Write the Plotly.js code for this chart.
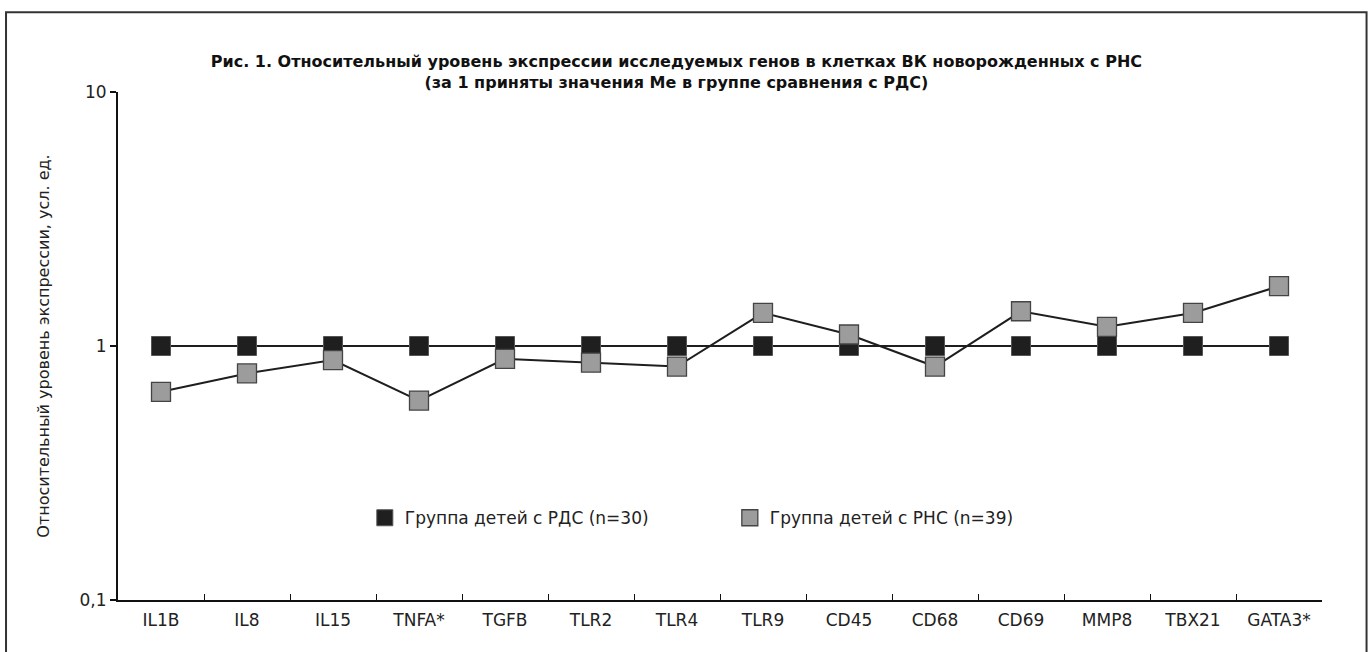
<!DOCTYPE html>
<html>
<head>
<meta charset="utf-8">
<script src="https://cdn.plot.ly/plotly-3.0.1.min.js"></script>
<style>html,body{margin:0;padding:0;background:#fff;}#chart{width:1372px;height:652px;}</style>
</head>
<body>
<div id="chart"></div>
<script>
const genes = ["IL1B","IL8","IL15","TNFA*","TGFB","TLR2","TLR4","TLR9","CD45","CD68","CD69","MMP8","TBX21","GATA3*"];
const rdsValues = [1,1,1,1,1,1,1,1,1,1,1,1,1,1];
const rnsValues = [0.66,0.78,0.88,0.61,0.89,0.86,0.83,1.35,1.11,0.83,1.37,1.19,1.35,1.72];
const seriesNames = ["Группа детей с РДС (n=30)","Группа детей с РНС (n=39)"];
const yTickVals = [0.1,1,10];
const yTickText = ["0,1","1","10"];
const titleLine1 = "Рис. 1. Относительный уровень экспрессии исследуемых генов в клетках ВК новорожденных с РНС";
const titleLine2 = "(за 1 приняты значения Ме в группе сравнения с РДС)";
const yTitle = "Относительный уровень экспрессии, усл. ед.";

const FONT = "DejaVu Sans, Liberation Sans, Arial, sans-serif";
const lineStyle = {color:"#1e1e1e", width:2};

const traces = [
  {x:genes, y:rdsValues, mode:"lines", line:lineStyle, showlegend:false, hoverinfo:"skip"},
  {x:genes, y:rnsValues, mode:"lines", line:lineStyle, showlegend:false, hoverinfo:"skip"},
  {x:genes, y:rdsValues, mode:"markers", name:seriesNames[0],
   marker:{symbol:"square", size:19, color:"#1f1f1f", line:{color:"#555", width:1}}},
  {x:genes, y:rnsValues, mode:"markers", name:seriesNames[1],
   marker:{symbol:"square", size:19, color:"#9c9c9c", line:{color:"#444", width:1.3}}}
];

const layout = {
  width:1372, height:652,
  margin:{l:118, r:50, t:92, b:52},
  paper_bgcolor:"#fff", plot_bgcolor:"#fff",
  font:{family:FONT, size:17, color:"#222"},
  title:{
    text:"<b>" + titleLine1 + "<br>" + titleLine2 + "</b>",
    font:{family:FONT, size:16, color:"#111"},
    x:0.493, xanchor:"center", y:0.897, yanchor:"middle"
  },
  xaxis:{
    type:"category", showline:true, linecolor:"#111", linewidth:2,
    ticks:"inside", tickson:"boundaries", ticklen:6, tickcolor:"#111", tickwidth:1,
    showgrid:false, zeroline:false, tickfont:{family:FONT, size:17, color:"#222"},
    range:[-0.5, 13.5], ticklabelstandoff:4
  },
  yaxis:{
    type:"log", range:[-1,1], showline:true, linecolor:"#111", linewidth:2,
    ticks:"outside", ticklen:6, tickcolor:"#111", tickwidth:1.5,
    tickvals:yTickVals, ticktext:yTickText, showgrid:false, zeroline:false,
    tickfont:{family:FONT, size:17, color:"#222"},
    title:{text:yTitle, font:{family:FONT, size:16, color:"#222"}, standoff:26}
  },
  legend:{
    orientation:"h", x:0.205, xanchor:"left", y:0.161, yanchor:"middle",
    font:{family:FONT, size:17, color:"#222"}, entrywidth:320, entrywidthmode:"pixels",
    bgcolor:"rgba(0,0,0,0)", itemsizing:"trace"
  },
  shapes:[
    {type:"rect", xref:"paper", yref:"paper", x0:-0.093, x1:1.037, y0:-0.12, y1:1.157,
     line:{color:"#333", width:2}, fillcolor:"rgba(0,0,0,0)"}
  ],
  showlegend:true
};

Plotly.newPlot("chart", traces, layout, {displayModeBar:false, staticPlot:true});
</script>
</body>
</html>
